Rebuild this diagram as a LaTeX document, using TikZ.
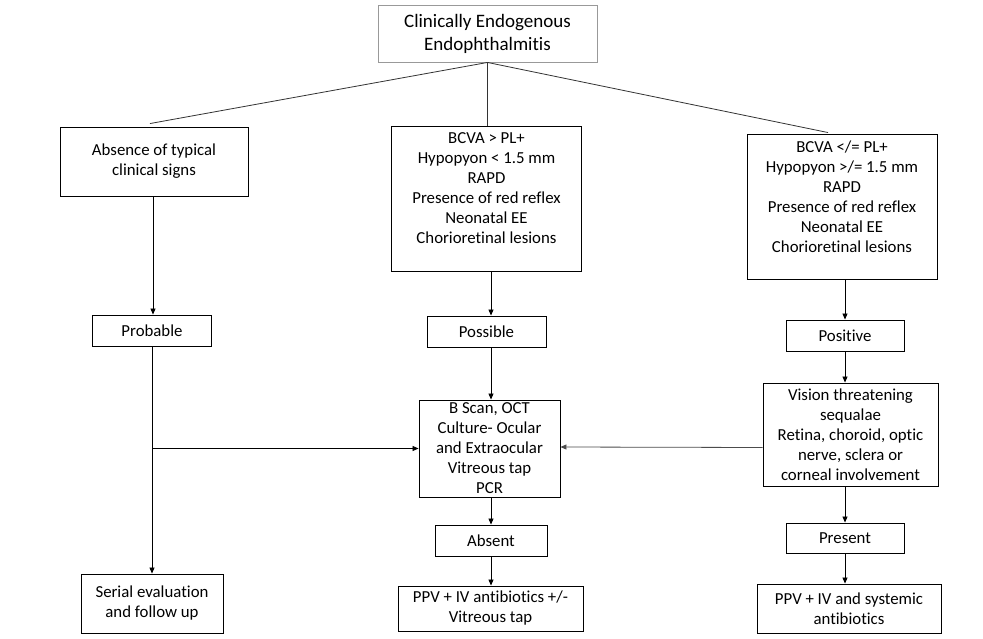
\documentclass[tikz,border=0pt]{standalone}
\usepackage{fontspec}
\setmainfont{Carlito}[Ligatures=NoCommon]
\usetikzlibrary{arrows.meta,calc}
\begin{document}
\begin{tikzpicture}[x=1pt,y=-1pt,
  box/.style={draw=black,line width=0.9pt,align=center,inner sep=0pt,
    font=\fontsize{16.8}{20}\selectfont},
  topbox/.style={draw=black!40,line width=0.9pt,align=center,inner sep=0pt,
    font=\fontsize{19}{23}\selectfont},
  conn/.style={line width=0.8pt,draw=black!80},
  arr/.style={line width=0.8pt,-{Triangle[length=6pt,width=5pt]}}]
\useasboundingbox[fill=white] (0,0) rectangle (983,639);

\node[topbox,minimum width=219,minimum height=57] (top) at (487.5,33.5) {Clinically Endogenous\\Endophthalmitis};

\node[box,minimum width=188,minimum height=69] (absence) at (154,161.5) {Absence of typical\\clinical signs};
\node[box,minimum width=119,minimum height=31] (probable) at (152,330.5) {Probable};
\node[box,minimum width=142,minimum height=59] (serial) at (152,603.5) {Serial evaluation\\and follow up};

\node[box,minimum width=190,minimum height=145] (mid) at (486.5,198.5) {BCVA > PL+\\Hypopyon < 1.5 mm\\RAPD\\Presence of red reflex\\Neonatal EE\\Chorioretinal lesions\\\mbox{}};
\node[box,minimum width=119,minimum height=31] (possible) at (486.5,331.5) {Possible};
\node[box,minimum width=141,minimum height=97] (bscan) at (489.5,448.5) {B Scan, OCT\\Culture- Ocular\\and Extraocular\\Vitreous tap\\PCR};
\node[box,minimum width=112,minimum height=31] (absent) at (491,540.5) {Absent};
\node[box,minimum width=185,minimum height=45] (ppvm) at (490.5,608.5) {PPV + IV antibiotics +/-\\Vitreous tap};

\node[box,minimum width=190,minimum height=145] (right) at (842,206.5) {BCVA </= PL+\\Hypopyon >/= 1.5 mm\\RAPD\\Presence of red reflex\\Neonatal EE\\Chorioretinal lesions\\\mbox{}};
\node[box,minimum width=118,minimum height=31] (positive) at (845,335.5) {Positive};
\node[box,minimum width=175,minimum height=103] (vision) at (850.5,434.5) {Vision threatening\\sequalae\\Retina, choroid, optic\\nerve, sclera or\\corneal involvement};
\node[box,minimum width=118,minimum height=30] (present) at (845,538) {Present};
\node[box,minimum width=184,minimum height=49] (ppvr) at (849,608.5) {PPV + IV and systemic\\antibiotics};

% top connectors
\draw[conn] (top.south) -- ($(absence.north)+(-4,-3)$);
\draw[conn] (top.south) -- (top.south |- mid.north);
\draw[conn] (top.south) -- ($(right.north)+(-14,-1)$);

% left column
\draw[arr] ($(absence.south -| probable.north)+(1,0)$) -- ($(probable.north)+(1,0)$);
\draw[arr] (probable.south) -- (serial.north);
\coordinate (j) at ($(probable.south)!0.5!(serial.north)$);
\coordinate (jj) at (j |- bscan.west);
\draw[arr] (jj) -- (bscan.west);

% middle column
\draw[arr] (mid.south -| absent.north) -- (possible.north -| absent.north);
\draw[arr] (possible.south -| absent.north) -- (bscan.north -| absent.north);
\draw[arr] (bscan.south -| absent.north) -- (absent.north);
\draw[arr] (absent.south) -- (ppvm.north -| absent.south);

% right column
\draw[arr] (right.south -| positive.north) -- (positive.north);
\draw[arr] (positive.south) -- (vision.north -| positive.south);
\draw[arr] (vision.south -| present.north) -- (present.north);
\draw[arr] (present.south) -- (ppvr.north -| present.south);
\draw[arr,draw=black!70] ($(vision.west)+(0,13)$) -- ($(bscan.east)+(0,-1.5)$);
\end{tikzpicture}
\end{document}
